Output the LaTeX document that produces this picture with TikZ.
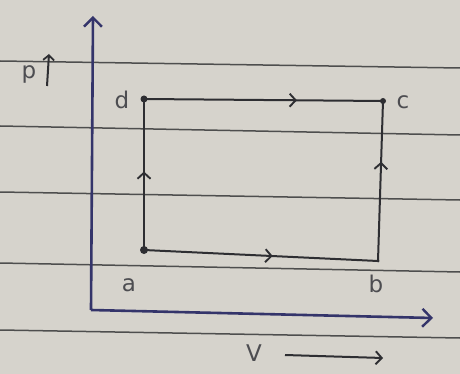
\documentclass[tikz,border=0pt]{standalone}
\usepackage{fontspec}
\setmainfont{DejaVu Sans}
\usetikzlibrary{arrows.meta,decorations.markings}
\definecolor{paper}{HTML}{D6D3CC}
\definecolor{rule}{HTML}{4E4E4E}
\definecolor{ink}{HTML}{2E2E32}
\definecolor{axisink}{HTML}{34346A}
\tikzset{
  pen/.style={draw=ink, line width=2pt},
  axisline/.style={draw=axisink, line width=2.6pt, -{Straight Barb[length=9pt,width=18pt,line width=2.4pt]}},
  midarrow/.style={postaction={decorate}, decoration={markings, mark=at position #1 with {\arrow{Straight Barb[length=6pt,width=13pt,line width=1.9pt]}}}},
  ptdot/.style={circle, fill=ink, inner sep=0pt, minimum size=8pt},
  lbl/.style={text=ink!85, font=\fontsize{23}{25}\selectfont, inner sep=1pt},
  ruled/.style={draw=rule, line width=1.5pt}
}
\begin{document}
\begin{tikzpicture}[x=1pt,y=-1pt]
\fill[paper] (0,0) rectangle (460,374);
\useasboundingbox (0,0) rectangle (460,374);
% ruled lines of the paper
\foreach \yl/\yr in {61/68, 126/135, 192/200, 263/272, 330/338} {
  \draw[ruled] (0,\yl) -- (460,\yr);
}
% axes
\coordinate (O) at (91,310);
\coordinate (Ptop) at (93,16);
\coordinate (Vend) at (433,318);
\draw[axisline] (O) -- (Ptop);
\draw[axisline] (O) -- (Vend);
% cycle points
\node[ptdot] (a) at (144,250) {};
\node[ptdot, minimum size=3pt] (b) at (378,261) {};
\node[ptdot, minimum size=6pt] (c) at (383,101) {};
\node[ptdot, minimum size=7pt] (d) at (144,99) {};
% cycle sides
\draw[pen, midarrow=0.55] (a.center) -- (b.center);
\draw[pen, midarrow=0.62] (b.center) -- (c.center);
\draw[pen, midarrow=0.64] (d.center) -- (c.center);
\draw[pen, midarrow=0.52] (a.center) -- (d.center);
% labels
\node[lbl] (la) at (129,285) {a};
\node[lbl] (lb) at (376,284) {b};
\node[lbl] (lc) at (403,102) {c};
\node[lbl] (ld) at (122,100) {d};
\node[lbl] (lp) at (29,74) {p};
\coordinate (pa1) at (47,86);
\coordinate (pa2) at (49,54);
\draw[pen, -{Straight Barb[length=5pt,width=11pt,line width=1.8pt]}] (pa1) -- (pa2);
\node[lbl] (lv) at (254,353) {V};
\coordinate (va1) at (285,355);
\coordinate (va2) at (383,358);
\draw[pen, -{Straight Barb[length=6pt,width=13pt,line width=1.9pt]}] (va1) -- (va2);
\end{tikzpicture}
\end{document}
